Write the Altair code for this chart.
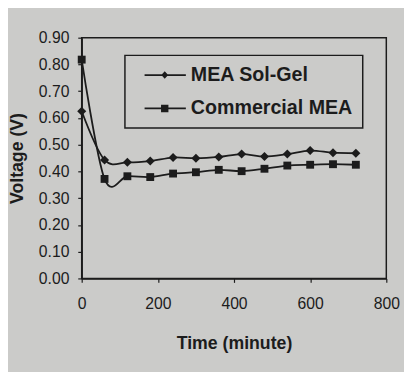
import altair as alt
import pandas as pd

# ---- data ----
times = [0, 60, 120, 180, 240, 300, 360, 420, 480, 540, 600, 660, 720]
sol_gel = [0.625, 0.443, 0.434, 0.439, 0.452, 0.449, 0.454, 0.465, 0.456, 0.465, 0.478, 0.470, 0.468]
commercial = [0.818, 0.372, 0.382, 0.379, 0.392, 0.397, 0.406, 0.401, 0.410, 0.422, 0.425, 0.427, 0.425]
series_names = ["MEA Sol-Gel", "Commercial MEA"]
x_ticks = [0, 200, 400, 600, 800]
y_ticks = [0.0, 0.1, 0.2, 0.3, 0.4, 0.5, 0.6, 0.7, 0.8, 0.9]

rows = []
for t, v in zip(times, sol_gel):
    rows.append({"time": t, "voltage": v, "series": series_names[0]})
for t, v in zip(times, commercial):
    rows.append({"time": t, "voltage": v, "series": series_names[1]})
df = pd.DataFrame(rows)

INK = "#1c1c1c"
BG = "#cbcbc9"
FONT = "Liberation Sans"

x_enc = alt.X("time:Q", scale=alt.Scale(domain=[0, 800], nice=False),
              axis=alt.Axis(values=x_ticks, title="Time (minute)", titlePadding=23,
                            labelPadding=14, labelFlush=False))
y_enc = alt.Y("voltage:Q", scale=alt.Scale(domain=[0, 0.9], nice=False),
              axis=alt.Axis(values=y_ticks, format=".2f", title="Voltage (V)", titlePadding=12,
                            labelPadding=9, labelFlush=False))

base = alt.Chart(df)

lines = base.mark_line(interpolate="cardinal", color=INK, strokeWidth=1.8).encode(
    x=x_enc, y=y_enc, detail="series:N"
)

points = base.mark_point(filled=True, color=INK, opacity=1).encode(
    x=x_enc, y=y_enc,
    shape=alt.Shape("series:N", scale=alt.Scale(domain=series_names, range=["diamond", "square"]), legend=None),
    size=alt.Size("series:N", scale=alt.Scale(domain=series_names, range=[85, 64]), legend=None),
)

# legend-only layer: symbols are a line with the marker on it
leg_paths = [
    "M0,-0.18H8.4V0.18H0Z M4.1,-0.78L4.8,0L4.1,0.78L3.4,0Z",
    "M0,-0.18H8.4V0.18H0Z M3.35,-0.75H4.85V0.75H3.35Z",
]
legend_layer = base.mark_point(filled=True, color=INK, opacity=0).encode(
    x=x_enc, y=y_enc,
    shape=alt.Shape(
        "series:N",
        scale=alt.Scale(domain=series_names, range=leg_paths),
        legend=alt.Legend(
            title=None, orient="none", legendX=44, legendY=18,
            direction="vertical",
            symbolSize=100, symbolOpacity=1, symbolFillColor=INK, symbolStrokeWidth=0,
            labelFont=FONT, labelFontSize=20, labelFontWeight="bold", labelColor=INK,
            labelOffset=37, rowPadding=14, padding=10,
            strokeColor=INK, fillColor=BG, labelLimit=400,
        ),
    ),
)

chart = (
    alt.layer(lines, points, legend_layer)
    .resolve_scale(shape="independent", size="independent")
    .properties(
        width=310, height=245, autosize="none",
        padding={"left": 75, "top": 27, "right": 18, "bottom": 92},
        background=BG,
    )
    .configure_view(stroke=INK, strokeWidth=1.5)
    .configure_legend(strokeWidth=1.5)
    .configure_axis(
        grid=False, domainColor=INK, domainWidth=1.5, tickColor=INK, tickWidth=1.2, tickSize=4,
        labelFont=FONT, labelFontSize=16, labelColor=INK,
        titleFont=FONT, titleFontSize=18, titleFontWeight="bold", titleColor=INK,
    )
)

chart.save("out.html", embed_options={"renderer": "svg", "actions": False})
